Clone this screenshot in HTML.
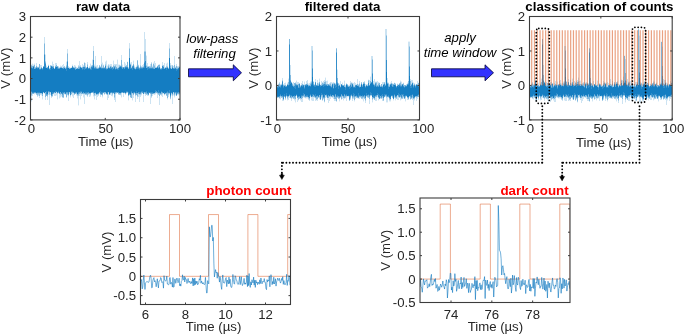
<!DOCTYPE html>
<html><head><meta charset="utf-8"><style>
html,body{margin:0;padding:0;background:#fff;width:685px;height:335px;overflow:hidden}
svg{display:block;font-family:"Liberation Sans",sans-serif;will-change:transform}
</style></head><body>
<svg width="685" height="335" viewBox="0 0 685 335" font-family="Liberation Sans, sans-serif">
<rect width="685" height="335" fill="#fff"/>
<path d="M31.5 64v1M31.5 101v1M32.5 63v1M33.5 64v1M34.5 63v1M34.5 94v1M37.5 66v1M38.5 66v1M41.5 95v1M42.5 99v1M45.5 54v1M46.5 65v1M48.5 64v1M52.5 61v1M53.5 94v1M56.5 95v1M57.5 99v1M58.5 93v1M59.5 98v1M60.5 65v1M60.5 97v1M61.5 96v1M64.5 94v1M66.5 61v1M67.5 95v1M70.5 67v1M70.5 97v1M72.5 64v1M72.5 96v1M73.5 66v1M75.5 65v1M76.5 95v1M77.5 67v1M77.5 98v1M78.5 105v1M80.5 99v1M82.5 94v1M83.5 97v1M86.5 95v1M88.5 67v1M90.5 63v1M90.5 96v1M92.5 59v1M93.5 96v1M94.5 64v1M94.5 99v1M96.5 65v1M102.5 62v1M102.5 97v1M103.5 64v1M103.5 93v1M105.5 61v1M106.5 60v1M107.5 65v1M109.5 64v1M112.5 66v1M112.5 96v1M113.5 60v1M117.5 59v1M118.5 64v1M119.5 64v1M120.5 95v1M121.5 97v1M122.5 64v1M124.5 93v1M125.5 63v1M126.5 93v1M127.5 61v1M128.5 100v1M129.5 95v1M130.5 62v1M132.5 100v1M133.5 60v1M134.5 65v1M136.5 65v1M136.5 95v1M138.5 64v1M141.5 95v1M142.5 93v1M146.5 55v1M149.5 93v1M152.5 65v1M153.5 62v1M153.5 94v1M155.5 94v1M156.5 93v1M157.5 65v1M158.5 64v1M160.5 67v1M164.5 95v1M165.5 94v1M166.5 63v1M167.5 62v1M167.5 99v1M168.5 67v1M169.5 94v1M170.5 99v1M171.5 95v1M173.5 95v1M174.5 97v1M175.5 66v1M175.5 95v1M178.5 95v1" stroke="#0072BD" stroke-opacity="0.08" fill="none"/>
<path d="M31.5 96v5M32.5 64v2M32.5 94v2M33.5 65v1M34.5 64v1M34.5 93v1M35.5 93v1M36.5 63v3M37.5 96v1M38.5 95v1M39.5 96v2M40.5 65v3M40.5 94v1M41.5 65v2M41.5 94v1M42.5 96v3M44.5 37v6M44.5 93v1M45.5 55v6M45.5 97v3M46.5 66v1M47.5 97v3M48.5 93v2M49.5 95v10M50.5 93v2M51.5 65v1M51.5 97v1M52.5 62v4M52.5 96v1M53.5 64v2M54.5 93v3M55.5 63v3M55.5 93v3M56.5 63v2M56.5 92v3M57.5 94v5M58.5 66v1M59.5 67v1M59.5 94v4M60.5 66v1M60.5 95v2M61.5 66v1M61.5 94v2M62.5 65v3M62.5 97v1M63.5 64v3M65.5 67v1M65.5 94v1M66.5 62v3M66.5 97v1M67.5 49v4M68.5 66v1M68.5 96v5M69.5 67v1M69.5 93v1M70.5 96v1M71.5 67v1M71.5 94v1M72.5 65v1M72.5 93v3M73.5 93v5M74.5 65v2M75.5 66v1M76.5 67v1M76.5 94v1M77.5 96v2M78.5 65v1M78.5 96v9M79.5 61v5M79.5 94v2M80.5 65v1M80.5 94v5M81.5 94v2M82.5 64v3M83.5 65v1M83.5 94v3M84.5 62v1M84.5 94v10M85.5 63v3M87.5 62v2M87.5 96v1M88.5 94v1M89.5 66v1M89.5 94v3M90.5 64v3M90.5 95v1M91.5 65v1M92.5 60v5M93.5 46v5M93.5 94v2M94.5 65v1M94.5 96v3M95.5 56v10M95.5 94v2M96.5 66v1M96.5 95v5M97.5 65v3M97.5 95v2M98.5 67v1M98.5 95v1M99.5 93v1M100.5 66v1M100.5 95v2M101.5 56v8M102.5 63v4M102.5 96v1M104.5 94v1M105.5 62v2M105.5 93v1M106.5 61v7M106.5 94v1M107.5 66v2M107.5 95v5M108.5 64v1M108.5 93v5M109.5 65v2M110.5 64v2M110.5 94v1M111.5 64v2M111.5 93v3M112.5 95v1M113.5 61v4M113.5 93v1M114.5 64v2M114.5 98v2M115.5 64v1M115.5 94v8M116.5 64v3M116.5 93v1M117.5 60v8M118.5 65v2M118.5 94v1M120.5 65v1M121.5 55v5M121.5 93v4M122.5 65v2M123.5 93v4M124.5 62v5M125.5 64v2M125.5 94v1M128.5 67v1M128.5 96v4M129.5 43v5M130.5 63v1M130.5 97v1M131.5 62v5M132.5 65v1M132.5 94v6M133.5 61v3M133.5 95v3M134.5 66v1M134.5 93v1M135.5 67v1M135.5 96v6M136.5 66v1M137.5 97v2M138.5 94v3M139.5 67v1M139.5 95v7M140.5 54v11M140.5 95v2M141.5 66v1M141.5 94v1M142.5 65v2M143.5 64v2M143.5 94v8M144.5 32v19M144.5 93v1M145.5 39v12M145.5 94v2M146.5 56v9M147.5 63v3M147.5 95v1M148.5 95v1M150.5 64v2M150.5 94v10M151.5 62v1M151.5 97v1M152.5 66v1M152.5 94v2M153.5 63v1M154.5 61v4M154.5 94v1M155.5 63v4M155.5 93v1M157.5 94v4M159.5 64v1M159.5 96v9M161.5 95v1M162.5 62v3M162.5 94v3M163.5 93v1M164.5 63v5M166.5 64v2M167.5 63v3M167.5 98v1M168.5 95v2M169.5 43v5M170.5 63v2M171.5 65v3M171.5 94v1M172.5 96v8M173.5 66v2M173.5 93v2M174.5 56v9M174.5 96v1M175.5 94v1M176.5 64v2M177.5 66v1M177.5 94v1M178.5 66v1M178.5 94v1M179.5 66v1M179.5 94v1" stroke="#0072BD" stroke-opacity="0.20" fill="none"/>
<path d="M31.5 65v1M31.5 95v1M35.5 67v1M36.5 94v1M37.5 95v1M38.5 94v1M40.5 68v1M40.5 93v1M41.5 93v1M43.5 92v1M44.5 43v1M45.5 61v1M46.5 67v1M47.5 96v1M48.5 65v1M48.5 92v1M49.5 68v1M49.5 94v1M50.5 65v1M50.5 92v1M51.5 96v1M54.5 68v1M57.5 93v1M58.5 67v1M60.5 94v1M63.5 97v1M64.5 66v1M66.5 65v1M67.5 53v1M67.5 94v1M68.5 67v1M68.5 95v1M69.5 92v1M70.5 95v1M74.5 67v1M74.5 94v1M76.5 68v1M76.5 93v1M77.5 95v1M78.5 66v1M78.5 95v1M79.5 66v1M80.5 66v1M80.5 93v1M81.5 67v1M83.5 66v1M85.5 66v1M85.5 94v1M86.5 67v1M86.5 94v1M87.5 64v1M87.5 95v1M89.5 67v1M90.5 67v1M90.5 94v1M93.5 93v1M94.5 66v1M94.5 95v1M95.5 66v1M95.5 93v1M96.5 67v1M97.5 94v1M98.5 94v1M99.5 65v1M100.5 94v1M101.5 64v1M102.5 67v1M102.5 95v1M103.5 65v1M104.5 67v1M105.5 64v1M108.5 65v1M108.5 92v1M109.5 67v1M110.5 93v1M111.5 66v1M112.5 94v1M113.5 65v1M114.5 97v1M115.5 65v1M115.5 93v1M118.5 67v1M119.5 65v1M119.5 94v1M120.5 94v1M126.5 65v1M127.5 92v1M129.5 48v1M131.5 67v1M132.5 93v1M134.5 67v1M135.5 68v1M135.5 95v1M137.5 60v1M137.5 96v1M138.5 65v1M139.5 94v1M140.5 65v1M140.5 94v1M141.5 93v1M143.5 66v1M144.5 51v1M145.5 51v1M146.5 65v1M146.5 94v1M147.5 66v1M147.5 94v1M148.5 66v1M149.5 66v1M150.5 66v1M151.5 63v1M151.5 96v1M154.5 65v1M154.5 93v1M155.5 67v1M156.5 67v1M157.5 93v1M158.5 94v1M160.5 68v1M160.5 94v1M161.5 94v1M162.5 65v1M162.5 93v1M163.5 65v1M164.5 94v1M165.5 67v1M166.5 66v1M166.5 95v1M167.5 66v1M168.5 94v1M169.5 48v1M169.5 93v1M170.5 65v1M170.5 98v1M171.5 68v1M171.5 93v1M172.5 65v1M172.5 95v1M173.5 92v1M174.5 95v1M175.5 67v1M175.5 93v1M177.5 67v1M178.5 67v1" stroke="#0072BD" stroke-opacity="0.35" fill="none"/>
<path d="M31.5 66v1M31.5 92v3M32.5 66v2M32.5 93v1M33.5 93v1M34.5 65v4M36.5 66v1M36.5 93v1M37.5 67v1M37.5 93v2M38.5 67v1M38.5 93v1M39.5 64v5M39.5 93v3M41.5 67v1M42.5 68v1M42.5 94v2M43.5 66v1M44.5 44v10M45.5 62v1M45.5 92v5M46.5 95v1M47.5 67v1M47.5 95v1M49.5 92v2M50.5 66v2M52.5 66v1M52.5 94v2M53.5 66v1M53.5 93v1M54.5 92v1M55.5 66v1M56.5 65v2M57.5 66v1M58.5 92v1M60.5 67v1M60.5 92v2M61.5 67v1M62.5 95v2M63.5 67v1M63.5 93v4M64.5 67v1M64.5 93v1M65.5 68v1M66.5 66v1M66.5 93v4M67.5 54v7M67.5 93v1M69.5 68v1M71.5 92v2M72.5 92v1M73.5 67v1M75.5 67v2M75.5 93v1M77.5 94v1M78.5 67v2M78.5 94v1M79.5 67v1M79.5 93v1M81.5 92v2M82.5 67v1M82.5 93v1M83.5 93v1M84.5 63v4M84.5 93v1M85.5 67v1M87.5 65v2M87.5 93v2M88.5 93v1M89.5 93v1M90.5 68v1M90.5 93v1M91.5 66v1M92.5 65v1M92.5 92v1M93.5 51v9M94.5 67v1M94.5 93v2M96.5 94v1M97.5 68v1M99.5 66v1M99.5 92v1M101.5 65v3M101.5 94v1M102.5 94v1M103.5 66v2M104.5 92v2M105.5 65v1M105.5 92v1M106.5 68v1M107.5 68v1M107.5 94v1M108.5 66v1M109.5 94v1M110.5 66v1M111.5 67v1M112.5 93v1M113.5 66v2M114.5 66v1M114.5 94v3M115.5 66v3M116.5 67v1M116.5 92v1M117.5 68v1M118.5 93v1M119.5 66v1M119.5 93v1M120.5 93v1M121.5 60v6M122.5 67v1M122.5 92v1M124.5 67v1M125.5 66v1M125.5 93v1M126.5 66v1M126.5 92v1M127.5 62v5M128.5 68v1M128.5 95v1M129.5 49v9M129.5 94v1M130.5 64v1M130.5 95v2M131.5 93v5M133.5 64v1M133.5 94v1M135.5 94v1M136.5 93v2M137.5 61v5M137.5 93v3M138.5 66v1M138.5 93v1M140.5 66v1M141.5 67v1M141.5 92v1M142.5 67v1M144.5 52v10M144.5 92v1M145.5 52v9M145.5 93v1M146.5 66v2M146.5 93v1M149.5 67v1M150.5 67v1M150.5 93v1M151.5 64v4M151.5 94v2M152.5 67v1M153.5 64v4M153.5 93v1M154.5 66v3M155.5 92v1M156.5 92v1M157.5 66v1M158.5 65v3M158.5 93v1M159.5 65v2M159.5 93v3M161.5 68v1M161.5 92v2M163.5 66v1M164.5 68v1M165.5 93v1M166.5 67v1M166.5 93v2M167.5 93v5M168.5 68v1M168.5 93v1M169.5 49v9M170.5 66v2M170.5 97v1M172.5 66v1M172.5 94v1M174.5 65v3M174.5 94v1M176.5 66v3M176.5 95v1M177.5 68v1M177.5 93v1M178.5 93v1M179.5 93v1" stroke="#0072BD" stroke-opacity="0.50" fill="none"/>
<path d="M31.5 67v1M33.5 66v1M34.5 92v1M35.5 68v1M35.5 92v1M36.5 67v1M44.5 54v1M45.5 63v1M46.5 94v1M47.5 94v1M48.5 91v1M51.5 95v1M53.5 67v1M58.5 68v1M59.5 68v1M59.5 93v1M61.5 93v1M62.5 94v1M63.5 68v1M64.5 92v1M66.5 67v1M66.5 92v1M67.5 61v1M67.5 92v1M68.5 94v1M70.5 68v1M72.5 66v1M73.5 92v1M74.5 93v1M75.5 69v1M76.5 92v1M77.5 68v1M78.5 93v1M79.5 68v1M79.5 92v1M80.5 92v1M82.5 68v1M83.5 92v1M85.5 68v1M85.5 93v1M86.5 93v1M88.5 68v1M88.5 92v1M91.5 92v1M92.5 66v1M93.5 92v1M95.5 67v1M96.5 68v1M98.5 68v1M98.5 93v1M99.5 67v1M100.5 67v1M100.5 93v1M102.5 93v1M103.5 92v1M106.5 93v1M108.5 67v1M111.5 92v1M112.5 67v1M113.5 68v1M115.5 92v1M116.5 68v1M117.5 92v1M118.5 92v1M120.5 66v1M121.5 66v1M121.5 92v1M122.5 68v1M123.5 67v1M124.5 68v1M124.5 92v1M131.5 92v1M132.5 66v1M133.5 65v1M133.5 93v1M134.5 68v1M134.5 92v1M135.5 93v1M136.5 67v1M137.5 66v1M138.5 67v1M138.5 92v1M139.5 68v1M140.5 67v1M140.5 93v1M142.5 92v1M143.5 67v1M144.5 62v1M145.5 92v1M146.5 92v1M147.5 67v1M147.5 93v1M148.5 94v1M151.5 93v1M152.5 93v1M153.5 68v1M156.5 91v1M157.5 92v1M160.5 93v1M162.5 92v1M167.5 67v1M167.5 92v1M170.5 96v1M172.5 67v1M173.5 68v1M174.5 68v1M174.5 93v1M175.5 92v1M178.5 92v1" stroke="#0072BD" stroke-opacity="0.65" fill="none"/>
<path d="M31.5 91v1M32.5 68v1M32.5 92v1M33.5 92v1M37.5 68v1M37.5 92v1M38.5 92v1M39.5 69v1M39.5 92v1M40.5 69v1M41.5 68v1M42.5 69v1M42.5 93v1M44.5 55v12M45.5 64v4M46.5 91v3M47.5 68v1M49.5 69v1M49.5 91v1M50.5 68v2M51.5 66v1M51.5 94v1M52.5 67v2M52.5 92v2M53.5 92v1M55.5 67v1M55.5 91v2M56.5 91v1M57.5 67v2M57.5 92v1M58.5 91v1M62.5 68v1M62.5 92v2M63.5 92v1M65.5 93v1M66.5 68v3M67.5 62v6M68.5 92v2M70.5 93v2M71.5 91v1M72.5 67v1M72.5 91v1M74.5 68v1M75.5 92v1M78.5 92v1M80.5 67v1M80.5 91v1M81.5 91v1M82.5 69v1M83.5 67v2M84.5 67v3M85.5 92v1M86.5 68v1M86.5 92v1M87.5 92v1M89.5 68v1M90.5 69v1M91.5 67v3M92.5 67v1M93.5 60v6M93.5 91v1M94.5 68v1M95.5 68v1M95.5 92v1M97.5 93v1M100.5 91v2M101.5 68v1M101.5 92v2M102.5 68v1M102.5 92v1M103.5 68v1M104.5 68v1M105.5 66v3M106.5 69v1M107.5 92v2M109.5 68v1M110.5 67v2M110.5 92v1M111.5 68v1M112.5 68v2M112.5 92v1M113.5 92v1M114.5 67v1M114.5 92v2M115.5 69v1M117.5 69v1M118.5 68v2M119.5 67v1M121.5 67v1M123.5 92v1M125.5 67v1M126.5 67v1M126.5 91v1M127.5 67v1M127.5 91v1M128.5 92v3M129.5 93v1M130.5 65v4M130.5 94v1M131.5 68v1M131.5 91v1M132.5 67v3M133.5 66v2M133.5 92v1M135.5 69v1M136.5 68v1M136.5 91v2M137.5 67v2M138.5 68v1M139.5 69v1M139.5 92v2M140.5 68v1M140.5 92v1M141.5 68v1M141.5 91v1M142.5 68v1M142.5 91v1M143.5 92v2M144.5 63v5M145.5 61v5M146.5 91v1M147.5 68v2M148.5 67v2M148.5 92v2M149.5 68v1M149.5 92v1M150.5 68v1M150.5 92v1M151.5 68v1M151.5 92v1M152.5 68v1M152.5 92v1M155.5 90v2M157.5 67v1M158.5 68v1M158.5 90v3M159.5 67v1M159.5 92v1M160.5 69v1M161.5 69v1M161.5 91v1M162.5 66v3M163.5 67v2M164.5 92v2M166.5 68v2M166.5 92v1M167.5 91v1M168.5 92v1M169.5 90v3M170.5 68v1M170.5 95v1M171.5 92v1M172.5 93v1M174.5 92v1M175.5 68v1M176.5 69v2M176.5 92v3M177.5 69v1M177.5 92v1M178.5 68v1M179.5 67v1M179.5 92v1" stroke="#0072BD" stroke-opacity="0.80" fill="none"/>
<path d="M31.5 68v23M32.5 69v23M33.5 67v25M34.5 69v23M35.5 69v23M36.5 68v25M37.5 69v23M38.5 68v24M39.5 70v22M40.5 70v23M41.5 69v24M42.5 70v23M43.5 67v25M44.5 67v26M45.5 68v24M46.5 68v23M47.5 69v25M48.5 66v25M49.5 70v21M50.5 70v22M51.5 67v27M52.5 69v23M53.5 68v24M54.5 69v23M55.5 68v23M56.5 67v24M57.5 69v23M58.5 69v22M59.5 69v24M60.5 68v24M61.5 68v25M62.5 69v23M63.5 69v23M64.5 68v24M65.5 69v24M66.5 71v21M67.5 68v24M68.5 68v24M69.5 69v23M70.5 69v24M71.5 68v23M72.5 68v23M73.5 68v24M74.5 69v24M75.5 70v22M76.5 69v23M77.5 69v25M78.5 69v23M79.5 69v23M80.5 68v23M81.5 68v23M82.5 70v23M83.5 69v23M84.5 70v23M85.5 69v23M86.5 69v23M87.5 67v25M88.5 69v23M89.5 69v24M90.5 70v23M91.5 70v22M92.5 68v24M93.5 66v25M94.5 69v24M95.5 69v23M96.5 69v25M97.5 69v24M98.5 69v24M99.5 68v24M100.5 68v23M101.5 69v23M102.5 69v23M103.5 69v23M104.5 69v23M105.5 69v23M106.5 70v23M107.5 69v23M108.5 68v24M109.5 69v25M110.5 69v23M111.5 69v23M112.5 70v22M113.5 69v23M114.5 68v24M115.5 70v22M116.5 69v23M117.5 70v22M118.5 70v22M119.5 68v25M120.5 67v26M121.5 68v24M122.5 69v23M123.5 68v24M124.5 69v23M125.5 68v25M126.5 68v23M127.5 68v23M128.5 69v23M129.5 58v35M130.5 69v25M131.5 69v22M132.5 70v23M133.5 68v24M134.5 69v23M135.5 70v23M136.5 69v22M137.5 69v24M138.5 69v23M139.5 70v22M140.5 69v23M141.5 69v22M142.5 69v22M143.5 68v24M144.5 68v24M145.5 66v26M146.5 68v23M147.5 70v23M148.5 69v23M149.5 69v23M150.5 69v23M151.5 69v23M152.5 69v23M153.5 69v24M154.5 69v24M155.5 68v22M156.5 68v23M157.5 68v24M158.5 69v21M159.5 68v24M160.5 70v23M161.5 70v21M162.5 69v23M163.5 69v24M164.5 69v23M165.5 68v25M166.5 70v22M167.5 68v23M168.5 69v23M169.5 58v32M170.5 69v26M171.5 69v23M172.5 68v25M173.5 69v23M174.5 69v23M175.5 69v23M176.5 71v21M177.5 70v22M178.5 69v23M179.5 68v24" stroke="#0072BD" stroke-opacity="0.92" fill="none"/>
<rect x="30.5" y="16.5" width="149.5" height="103.4" fill="none" stroke="#3c3c3c" stroke-width="1.1"/>
<path d="M30.5 119.9v-2M30.5 16.5v2M105.25 119.9v-2M105.25 16.5v2M180 119.9v-2M180 16.5v2M30.5 119.9h2M180 119.9h-2M30.5 99.22h2M180 99.22h-2M30.5 78.54h2M180 78.54h-2M30.5 57.86h2M180 57.86h-2M30.5 37.18h2M180 37.18h-2M30.5 16.5h2M180 16.5h-2" stroke="#3c3c3c" stroke-width="1" fill="none"/>
<text x="31.5" y="133.2" text-anchor="middle" font-weight="normal" font-style="normal" fill="#262626" font-size="13.2">0</text>
<text x="105.75" y="133.2" text-anchor="middle" font-weight="normal" font-style="normal" fill="#262626" font-size="13.2">50</text>
<text x="180" y="133.2" text-anchor="middle" font-weight="normal" font-style="normal" fill="#262626" font-size="13.2">100</text>
<text x="26" y="124.8" text-anchor="end" font-weight="normal" font-style="normal" fill="#262626" font-size="13.2">-2</text>
<text x="26" y="104.12" text-anchor="end" font-weight="normal" font-style="normal" fill="#262626" font-size="13.2">-1</text>
<text x="26" y="83.44" text-anchor="end" font-weight="normal" font-style="normal" fill="#262626" font-size="13.2">0</text>
<text x="26" y="62.76" text-anchor="end" font-weight="normal" font-style="normal" fill="#262626" font-size="13.2">1</text>
<text x="26" y="42.08" text-anchor="end" font-weight="normal" font-style="normal" fill="#262626" font-size="13.2">2</text>
<text x="26" y="21.4" text-anchor="end" font-weight="normal" font-style="normal" fill="#262626" font-size="13.2">3</text>
<text x="105.75" y="146.3" text-anchor="middle" font-weight="normal" font-style="normal" fill="#262626" font-size="13.2">Time (µs)</text>
<text x="0" y="0" text-anchor="middle" fill="#262626" font-size="13.2" transform="translate(9.5 68.2) rotate(-90)">V (mV)</text>
<text x="103" y="10.8" text-anchor="middle" font-weight="bold" font-style="normal" fill="#000" font-size="13.35">raw data</text>
<path d="M278.5 83v1M280.5 99v1M281.5 83v1M285.5 82v1M286.5 85v1M287.5 82v1M287.5 100v1M288.5 78v1M290.5 98v1M291.5 81v1M292.5 98v1M294.5 100v1M295.5 102v1M296.5 80v1M298.5 100v1M300.5 100v1M303.5 97v1M304.5 81v1M305.5 98v1M306.5 98v1M307.5 98v1M308.5 83v1M310.5 81v1M310.5 97v1M311.5 100v1M316.5 84v1M316.5 100v1M318.5 82v1M319.5 78v1M319.5 99v1M320.5 84v1M321.5 98v1M323.5 99v1M324.5 102v1M325.5 77v1M326.5 97v1M327.5 80v1M331.5 97v1M332.5 82v1M334.5 82v1M337.5 69v1M339.5 83v1M339.5 101v1M342.5 82v1M343.5 100v1M344.5 80v1M345.5 98v1M347.5 97v1M349.5 84v1M351.5 96v1M352.5 82v1M354.5 101v1M357.5 98v1M360.5 84v1M362.5 99v1M363.5 101v1M368.5 79v1M370.5 76v1M370.5 96v1M372.5 102v1M375.5 81v1M376.5 81v1M377.5 97v1M378.5 100v1M379.5 82v1M379.5 99v1M384.5 97v1M386.5 102v1M387.5 102v1M388.5 82v1M389.5 101v1M390.5 82v1M390.5 101v1M393.5 83v1M393.5 100v1M394.5 82v1M395.5 100v1M397.5 83v1M400.5 80v1M400.5 100v1M401.5 81v1M401.5 99v1M402.5 83v1M403.5 82v1M403.5 98v1M405.5 101v1M407.5 82v1M408.5 41v1M409.5 41v1M409.5 97v1M413.5 82v1M414.5 100v1M415.5 84v1M415.5 97v1M418.5 82v1" stroke="#0072BD" stroke-opacity="0.08" fill="none"/>
<path d="M277.5 85v1M278.5 97v1M279.5 82v1M279.5 98v1M280.5 84v1M280.5 97v2M282.5 78v2M282.5 98v3M283.5 84v1M283.5 100v1M284.5 83v2M285.5 83v2M285.5 99v1M286.5 96v1M287.5 83v1M287.5 99v1M288.5 79v3M288.5 97v3M289.5 96v2M290.5 65v10M291.5 99v2M292.5 83v1M293.5 82v3M294.5 99v1M295.5 82v1M295.5 99v3M296.5 81v3M297.5 82v2M297.5 98v4M298.5 82v2M300.5 85v1M300.5 99v1M301.5 83v2M301.5 99v3M302.5 81v3M302.5 98v4M303.5 84v1M304.5 82v3M304.5 97v1M306.5 81v3M306.5 97v1M307.5 80v3M307.5 97v1M308.5 84v1M308.5 99v1M309.5 83v2M309.5 100v1M310.5 82v1M310.5 96v1M311.5 46v35M311.5 97v3M312.5 46v4M312.5 97v4M313.5 81v1M313.5 97v4M314.5 84v1M314.5 97v1M315.5 79v3M315.5 98v3M317.5 80v3M317.5 99v2M318.5 83v1M319.5 79v3M319.5 98v1M321.5 81v3M321.5 97v1M322.5 82v1M322.5 100v1M323.5 81v2M324.5 80v2M325.5 78v3M325.5 96v2M326.5 81v3M327.5 81v3M327.5 98v2M328.5 98v5M329.5 83v1M329.5 97v4M330.5 82v1M330.5 97v2M331.5 82v3M332.5 97v1M333.5 82v1M333.5 97v2M334.5 99v2M335.5 83v1M335.5 99v2M336.5 101v1M337.5 70v8M339.5 84v1M339.5 99v2M340.5 81v5M340.5 97v1M341.5 99v1M342.5 83v2M342.5 97v2M343.5 98v2M344.5 81v3M344.5 98v1M345.5 85v1M346.5 83v1M346.5 97v4M347.5 96v1M348.5 85v1M348.5 96v1M349.5 85v1M350.5 81v2M350.5 99v1M351.5 82v1M352.5 99v2M353.5 83v2M353.5 98v1M354.5 82v4M354.5 100v1M355.5 83v2M355.5 97v2M356.5 84v1M357.5 79v5M358.5 84v1M358.5 98v1M359.5 81v2M359.5 97v2M360.5 85v1M360.5 97v1M362.5 84v1M363.5 98v3M364.5 81v1M365.5 84v2M365.5 101v2M366.5 84v1M366.5 96v1M367.5 84v1M367.5 97v1M369.5 80v5M369.5 99v5M370.5 77v4M371.5 56v26M372.5 56v3M372.5 100v2M373.5 81v2M373.5 98v1M374.5 79v5M375.5 97v4M376.5 97v4M377.5 81v4M377.5 96v1M378.5 82v1M378.5 98v2M380.5 85v1M380.5 98v1M382.5 82v4M382.5 98v3M383.5 82v2M385.5 29v55M385.5 96v1M386.5 29v6M386.5 98v4M387.5 78v4M387.5 97v5M388.5 97v1M389.5 84v1M389.5 100v1M390.5 83v1M390.5 100v1M391.5 81v2M391.5 96v1M392.5 83v1M393.5 99v1M394.5 97v1M395.5 83v1M395.5 98v2M397.5 96v4M398.5 84v1M398.5 97v3M400.5 81v1M400.5 97v3M401.5 82v2M403.5 97v1M405.5 98v3M406.5 84v1M406.5 96v1M407.5 83v1M407.5 98v2M408.5 42v39M408.5 99v1M409.5 42v4M410.5 79v2M410.5 99v1M411.5 80v4M412.5 80v2M412.5 98v2M413.5 83v2M413.5 99v6M414.5 83v1M414.5 99v1M416.5 98v3M417.5 81v3M417.5 97v2" stroke="#0072BD" stroke-opacity="0.20" fill="none"/>
<path d="M277.5 97v1M278.5 84v1M279.5 83v1M280.5 96v1M281.5 84v1M281.5 97v1M282.5 80v1M282.5 97v1M285.5 98v1M287.5 98v1M291.5 98v1M292.5 97v1M293.5 85v1M293.5 98v1M294.5 98v1M296.5 95v1M297.5 84v1M298.5 99v1M299.5 83v1M299.5 98v1M300.5 98v1M303.5 96v1M305.5 84v1M305.5 97v1M307.5 83v1M308.5 98v1M309.5 99v1M310.5 83v1M311.5 81v1M312.5 50v1M316.5 99v1M318.5 84v1M318.5 97v1M319.5 97v1M321.5 84v1M321.5 96v1M323.5 83v1M323.5 98v1M324.5 101v1M325.5 81v1M325.5 95v1M326.5 96v1M329.5 84v1M330.5 83v1M330.5 96v1M331.5 85v1M332.5 83v1M333.5 83v1M333.5 96v1M336.5 48v1M337.5 97v1M338.5 83v1M338.5 98v1M339.5 98v1M340.5 86v1M342.5 96v1M344.5 84v1M345.5 86v1M345.5 97v1M346.5 96v1M347.5 84v1M349.5 100v1M350.5 83v1M350.5 98v1M352.5 83v1M352.5 98v1M353.5 85v1M353.5 97v1M354.5 86v1M356.5 97v1M359.5 83v1M360.5 86v1M361.5 82v1M361.5 98v1M362.5 98v1M363.5 82v1M363.5 97v1M364.5 82v1M364.5 98v1M365.5 100v1M367.5 85v1M368.5 80v1M368.5 97v1M370.5 95v1M371.5 95v1M372.5 59v1M372.5 99v1M373.5 83v1M374.5 84v1M374.5 99v1M375.5 82v1M376.5 82v1M377.5 95v1M378.5 83v1M381.5 98v1M382.5 97v1M383.5 100v1M384.5 82v1M385.5 84v1M386.5 35v1M386.5 97v1M387.5 82v1M388.5 83v1M389.5 85v1M389.5 99v1M390.5 99v1M392.5 97v1M394.5 96v1M396.5 98v1M397.5 84v1M397.5 95v1M399.5 83v1M399.5 97v1M400.5 82v1M401.5 84v1M401.5 98v1M402.5 98v1M403.5 83v1M405.5 97v1M406.5 85v1M409.5 46v1M409.5 96v1M411.5 98v1M412.5 82v1M412.5 97v1M414.5 98v1M415.5 85v1M416.5 97v1M417.5 84v1" stroke="#0072BD" stroke-opacity="0.35" fill="none"/>
<path d="M277.5 86v1M278.5 85v1M279.5 84v2M279.5 97v1M280.5 85v1M281.5 96v1M283.5 85v1M283.5 99v1M284.5 85v1M284.5 96v1M285.5 85v1M287.5 84v1M287.5 97v1M288.5 82v3M288.5 96v1M289.5 39v5M289.5 95v1M290.5 75v5M290.5 97v1M291.5 82v1M291.5 96v2M292.5 84v1M293.5 96v2M294.5 83v3M294.5 97v1M295.5 83v1M295.5 96v3M296.5 84v1M298.5 84v3M298.5 97v2M299.5 97v1M300.5 86v1M301.5 97v2M302.5 84v1M302.5 96v2M304.5 85v2M304.5 95v2M307.5 84v1M308.5 85v1M308.5 97v1M309.5 85v1M309.5 98v1M310.5 84v2M310.5 95v1M311.5 82v1M312.5 51v17M312.5 96v1M313.5 82v2M313.5 95v2M314.5 96v1M315.5 97v1M316.5 97v2M317.5 83v2M317.5 96v3M318.5 85v1M319.5 82v1M319.5 95v2M320.5 99v1M321.5 85v1M321.5 95v1M322.5 83v2M322.5 95v5M324.5 82v2M324.5 98v3M325.5 82v2M326.5 84v1M326.5 95v1M327.5 84v2M328.5 84v1M328.5 96v2M329.5 96v1M330.5 84v2M331.5 86v1M331.5 96v1M332.5 95v2M333.5 84v4M334.5 83v1M334.5 97v2M335.5 84v1M335.5 95v4M336.5 49v3M336.5 97v4M337.5 78v4M338.5 84v2M338.5 97v1M341.5 95v4M343.5 85v1M343.5 97v1M344.5 85v2M344.5 95v3M345.5 96v1M348.5 86v1M350.5 84v1M350.5 97v1M351.5 83v3M351.5 95v1M352.5 97v1M353.5 86v1M353.5 96v1M354.5 97v3M355.5 96v1M356.5 96v1M357.5 84v2M357.5 97v1M358.5 85v1M359.5 84v3M359.5 96v1M360.5 96v1M361.5 83v1M361.5 96v2M362.5 85v1M362.5 97v1M363.5 83v1M364.5 83v1M364.5 96v2M365.5 86v1M365.5 98v2M367.5 96v1M368.5 81v2M368.5 95v2M369.5 97v2M370.5 81v2M372.5 60v13M372.5 97v2M374.5 98v1M375.5 96v1M376.5 83v3M376.5 96v1M377.5 85v1M378.5 84v2M378.5 97v1M379.5 83v2M380.5 86v1M380.5 96v2M381.5 84v2M382.5 86v1M382.5 96v1M383.5 84v1M383.5 98v2M384.5 83v1M385.5 95v1M386.5 36v24M386.5 96v1M388.5 84v2M389.5 86v1M389.5 98v1M391.5 83v1M392.5 84v2M392.5 96v1M393.5 84v1M394.5 83v2M394.5 95v1M395.5 84v1M395.5 97v1M396.5 86v1M396.5 97v1M397.5 85v1M398.5 96v1M400.5 83v2M400.5 96v1M401.5 85v1M402.5 95v3M403.5 84v2M403.5 96v1M404.5 85v2M404.5 98v1M405.5 85v1M405.5 96v1M407.5 97v1M408.5 81v2M408.5 98v1M409.5 47v19M410.5 81v5M410.5 97v2M411.5 84v1M412.5 95v2M413.5 85v1M413.5 98v1M414.5 84v1M415.5 96v1M416.5 84v1M416.5 96v1M417.5 96v1M418.5 83v3M418.5 95v2" stroke="#0072BD" stroke-opacity="0.50" fill="none"/>
<path d="M279.5 86v1M279.5 96v1M280.5 86v1M280.5 95v1M282.5 81v1M282.5 96v1M283.5 86v1M285.5 86v1M285.5 97v1M286.5 86v1M286.5 95v1M287.5 96v1M289.5 44v1M290.5 80v1M292.5 85v1M293.5 86v1M294.5 96v1M295.5 84v1M297.5 97v1M298.5 87v1M299.5 96v1M301.5 85v1M301.5 96v1M302.5 85v1M303.5 95v1M304.5 87v1M304.5 94v1M305.5 96v1M306.5 84v1M306.5 96v1M307.5 96v1M311.5 83v1M312.5 68v1M313.5 84v1M314.5 85v1M315.5 82v1M316.5 85v1M316.5 96v1M317.5 85v1M319.5 83v1M320.5 85v1M323.5 84v1M323.5 97v1M324.5 97v1M325.5 84v1M327.5 97v1M328.5 95v1M329.5 85v1M330.5 95v1M333.5 95v1M335.5 94v1M336.5 52v1M337.5 82v1M337.5 96v1M338.5 96v1M339.5 85v1M339.5 97v1M340.5 96v1M341.5 84v1M341.5 94v1M342.5 85v1M343.5 96v1M344.5 94v1M345.5 87v1M346.5 84v1M346.5 95v1M347.5 85v1M349.5 86v1M349.5 99v1M350.5 96v1M351.5 86v1M352.5 96v1M353.5 95v1M354.5 96v1M355.5 85v1M358.5 97v1M362.5 86v1M362.5 96v1M363.5 96v1M364.5 95v1M366.5 85v1M366.5 95v1M367.5 95v1M369.5 85v1M369.5 96v1M370.5 83v1M371.5 82v1M372.5 73v1M373.5 84v1M373.5 97v1M374.5 85v1M375.5 83v1M376.5 86v1M376.5 95v1M378.5 86v1M379.5 98v1M381.5 86v1M381.5 97v1M384.5 96v1M385.5 85v1M386.5 95v1M387.5 83v1M387.5 96v1M388.5 86v1M388.5 96v1M390.5 84v1M392.5 86v1M396.5 96v1M398.5 95v1M399.5 84v1M400.5 85v1M400.5 95v1M401.5 97v1M402.5 84v1M407.5 84v1M408.5 83v1M408.5 97v1M409.5 66v1M410.5 96v1M411.5 97v1M413.5 86v1M414.5 97v1M415.5 86v1M417.5 85v1" stroke="#0072BD" stroke-opacity="0.65" fill="none"/>
<path d="M277.5 87v1M277.5 96v1M278.5 86v2M278.5 96v1M280.5 87v1M280.5 94v1M281.5 85v1M282.5 82v3M282.5 95v1M283.5 87v1M283.5 96v3M284.5 94v2M285.5 96v1M286.5 93v2M288.5 85v1M289.5 45v40M289.5 94v1M290.5 81v3M290.5 95v2M291.5 95v1M292.5 96v1M294.5 86v2M294.5 95v1M295.5 85v4M296.5 85v1M296.5 94v1M297.5 85v1M297.5 96v1M298.5 96v1M299.5 84v4M300.5 87v1M301.5 95v1M302.5 86v1M302.5 95v1M303.5 85v1M303.5 93v2M304.5 88v1M305.5 85v1M306.5 85v1M306.5 95v1M307.5 95v1M308.5 86v1M309.5 96v2M310.5 86v1M310.5 94v1M311.5 84v1M311.5 96v1M312.5 69v8M312.5 94v2M313.5 85v1M313.5 94v1M314.5 86v1M314.5 95v1M315.5 83v4M315.5 94v3M317.5 95v1M318.5 96v1M319.5 84v1M320.5 86v1M320.5 97v2M321.5 93v2M322.5 85v1M322.5 94v1M323.5 85v2M324.5 84v2M324.5 94v3M325.5 85v1M326.5 85v1M326.5 94v1M327.5 96v1M328.5 85v1M330.5 86v1M330.5 94v1M331.5 87v1M332.5 84v1M333.5 88v1M334.5 84v2M334.5 96v1M335.5 85v3M336.5 53v34M336.5 96v1M337.5 83v1M337.5 95v1M338.5 86v3M339.5 96v1M340.5 87v1M342.5 95v1M345.5 88v2M345.5 95v1M346.5 94v1M347.5 86v1M348.5 95v1M349.5 87v2M349.5 96v3M350.5 85v3M350.5 95v1M351.5 94v1M352.5 84v1M353.5 87v1M353.5 93v2M354.5 87v1M354.5 94v2M355.5 86v2M356.5 85v1M356.5 95v1M357.5 96v1M358.5 86v1M358.5 93v4M359.5 87v1M359.5 95v1M360.5 95v1M361.5 84v1M362.5 95v1M364.5 84v2M365.5 87v1M365.5 96v2M366.5 93v2M367.5 86v1M368.5 83v3M368.5 94v1M369.5 95v1M370.5 92v3M371.5 93v2M372.5 74v6M373.5 95v2M374.5 86v1M374.5 96v2M375.5 84v2M375.5 95v1M377.5 86v1M377.5 93v2M378.5 94v3M379.5 85v1M379.5 95v3M381.5 95v2M382.5 87v1M382.5 94v2M383.5 96v2M384.5 84v3M384.5 94v2M385.5 94v1M386.5 60v12M386.5 94v1M388.5 87v2M388.5 95v1M389.5 97v1M390.5 97v2M391.5 84v2M391.5 95v1M392.5 95v1M393.5 85v2M393.5 98v1M394.5 94v1M395.5 85v1M395.5 96v1M396.5 87v1M398.5 85v2M398.5 93v2M399.5 85v1M399.5 94v3M400.5 86v1M401.5 86v1M401.5 94v3M402.5 94v1M403.5 86v1M403.5 94v2M404.5 87v1M404.5 96v2M405.5 86v1M405.5 95v1M406.5 86v1M406.5 95v1M408.5 84v1M409.5 67v9M410.5 86v2M410.5 95v1M411.5 85v3M411.5 95v2M412.5 83v1M412.5 94v1M413.5 87v1M413.5 96v2M414.5 85v1M415.5 87v1M417.5 95v1M418.5 86v1M418.5 94v1" stroke="#0072BD" stroke-opacity="0.80" fill="none"/>
<path d="M277.5 88v8M278.5 88v8M279.5 87v9M280.5 88v6M281.5 86v10M282.5 85v10M283.5 88v8M284.5 86v8M285.5 87v9M286.5 87v6M287.5 85v11M288.5 86v10M289.5 85v9M290.5 84v11M291.5 83v12M292.5 86v10M293.5 87v9M294.5 88v7M295.5 89v7M296.5 86v8M297.5 86v10M298.5 88v8M299.5 88v8M300.5 88v10M301.5 86v9M302.5 87v8M303.5 86v7M304.5 89v5M305.5 86v10M306.5 86v9M307.5 85v10M308.5 87v10M309.5 86v10M310.5 87v7M311.5 85v11M312.5 77v17M313.5 86v8M314.5 87v8M315.5 87v7M316.5 86v10M317.5 86v9M318.5 86v10M319.5 85v10M320.5 87v10M321.5 86v7M322.5 86v8M323.5 87v10M324.5 86v8M325.5 86v9M326.5 86v8M327.5 86v10M328.5 86v9M329.5 86v10M330.5 87v7M331.5 88v8M332.5 85v10M333.5 89v6M334.5 86v10M335.5 88v6M336.5 87v9M337.5 84v11M338.5 89v7M339.5 86v10M340.5 88v8M341.5 85v9M342.5 86v9M343.5 86v10M344.5 87v7M345.5 90v5M346.5 85v9M347.5 87v9M348.5 87v8M349.5 89v7M350.5 88v7M351.5 87v7M352.5 85v11M353.5 88v5M354.5 88v6M355.5 88v8M356.5 86v9M357.5 86v10M358.5 87v6M359.5 88v7M360.5 87v8M361.5 85v11M362.5 87v8M363.5 84v12M364.5 86v9M365.5 88v8M366.5 86v7M367.5 87v8M368.5 86v8M369.5 86v9M370.5 84v8M371.5 83v10M372.5 80v17M373.5 85v10M374.5 87v9M375.5 86v9M376.5 87v8M377.5 87v6M378.5 87v7M379.5 86v9M380.5 87v9M381.5 87v8M382.5 88v6M383.5 85v11M384.5 87v7M385.5 86v8M386.5 72v22M387.5 84v12M388.5 89v6M389.5 87v10M390.5 85v12M391.5 86v9M392.5 87v8M393.5 87v11M394.5 85v9M395.5 86v10M396.5 88v8M397.5 86v9M398.5 87v6M399.5 86v8M400.5 87v8M401.5 87v7M402.5 85v9M403.5 87v7M404.5 88v8M405.5 87v8M406.5 87v8M407.5 85v12M408.5 85v12M409.5 76v20M410.5 88v7M411.5 88v7M412.5 84v10M413.5 88v8M414.5 86v11M415.5 88v8M416.5 85v11M417.5 86v9M418.5 87v7" stroke="#0072BD" stroke-opacity="0.92" fill="none"/>
<rect x="276.5" y="16.5" width="143" height="103.4" fill="none" stroke="#3c3c3c" stroke-width="1.1"/>
<path d="M276.5 119.9v-2M276.5 16.5v2M348 119.9v-2M348 16.5v2M419.5 119.9v-2M419.5 16.5v2M276.5 119.9h2M419.5 119.9h-2M276.5 85.43h2M419.5 85.43h-2M276.5 50.97h2M419.5 50.97h-2M276.5 16.5h2M419.5 16.5h-2" stroke="#3c3c3c" stroke-width="1" fill="none"/>
<text x="277.5" y="133.2" text-anchor="middle" font-weight="normal" font-style="normal" fill="#262626" font-size="13.2">0</text>
<text x="348" y="133.2" text-anchor="middle" font-weight="normal" font-style="normal" fill="#262626" font-size="13.2">50</text>
<text x="423.3" y="133.2" text-anchor="middle" font-weight="normal" font-style="normal" fill="#262626" font-size="13.2">100</text>
<text x="272" y="124.8" text-anchor="end" font-weight="normal" font-style="normal" fill="#262626" font-size="13.2">-1</text>
<text x="272" y="90.33" text-anchor="end" font-weight="normal" font-style="normal" fill="#262626" font-size="13.2">0</text>
<text x="272" y="55.87" text-anchor="end" font-weight="normal" font-style="normal" fill="#262626" font-size="13.2">1</text>
<text x="272" y="21.4" text-anchor="end" font-weight="normal" font-style="normal" fill="#262626" font-size="13.2">2</text>
<text x="349.4" y="146.3" text-anchor="middle" font-weight="normal" font-style="normal" fill="#262626" font-size="13.2">Time (µs)</text>
<text x="0" y="0" text-anchor="middle" fill="#262626" font-size="13.2" transform="translate(257.6 68.2) rotate(-90)">V (mV)</text>
<text x="342.5" y="10.8" text-anchor="middle" font-weight="bold" font-style="normal" fill="#000" font-size="13.35">filtered data</text>
<path d="M531.5 83v1M533.5 99v1M534.5 83v1M538.5 82v1M539.5 85v1M540.5 82v1M540.5 100v1M541.5 78v1M543.5 98v1M544.5 81v1M545.5 98v1M547.5 100v1M548.5 102v1M549.5 80v1M551.5 100v1M553.5 100v1M556.5 97v1M557.5 81v1M558.5 98v1M559.5 98v1M560.5 98v1M561.5 83v1M563.5 81v1M563.5 97v1M564.5 100v1M569.5 84v1M569.5 100v1M571.5 82v1M572.5 78v1M572.5 99v1M573.5 84v1M574.5 98v1M576.5 99v1M577.5 102v1M578.5 77v1M579.5 97v1M580.5 80v1M584.5 97v1M585.5 82v1M587.5 82v1M590.5 69v1M592.5 83v1M592.5 101v1M595.5 82v1M596.5 100v1M597.5 80v1M598.5 98v1M600.5 97v1M602.5 84v1M604.5 96v1M605.5 82v1M607.5 101v1M610.5 98v1M613.5 84v1M615.5 99v1M616.5 101v1M621.5 79v1M623.5 76v1M623.5 96v1M624.5 55v1M625.5 102v1M628.5 81v1M629.5 81v1M630.5 97v1M631.5 100v1M632.5 82v1M632.5 99v1M637.5 97v1M639.5 35v1M639.5 102v1M640.5 102v1M641.5 82v1M642.5 101v1M643.5 82v1M643.5 101v1M646.5 83v1M646.5 100v1M647.5 82v1M648.5 100v1M650.5 83v1M653.5 80v1M653.5 100v1M654.5 81v1M654.5 99v1M655.5 83v1M656.5 82v1M656.5 98v1M658.5 101v1M660.5 82v1M661.5 41v1M662.5 46v1M662.5 97v1M666.5 82v1M667.5 100v1M668.5 84v1M668.5 97v1M671.5 82v1" stroke="#0072BD" stroke-opacity="0.08" fill="none"/>
<path d="M530.5 85v1M531.5 97v1M532.5 82v1M532.5 98v1M533.5 84v1M533.5 97v2M535.5 78v2M535.5 98v3M536.5 84v1M536.5 100v1M537.5 83v2M538.5 83v2M538.5 99v1M539.5 96v1M540.5 83v1M540.5 99v1M541.5 79v3M541.5 97v3M542.5 96v2M543.5 65v10M544.5 99v2M545.5 83v1M546.5 82v3M547.5 99v1M548.5 82v1M548.5 99v3M549.5 81v3M550.5 82v2M550.5 98v4M551.5 82v2M553.5 85v1M553.5 99v1M554.5 83v2M554.5 99v3M555.5 81v3M555.5 98v4M556.5 84v1M557.5 82v3M557.5 97v1M559.5 81v3M559.5 97v1M560.5 80v3M560.5 97v1M561.5 84v1M561.5 99v1M562.5 83v2M562.5 100v1M563.5 82v1M563.5 96v1M564.5 46v35M564.5 97v3M565.5 46v4M565.5 97v4M566.5 81v1M566.5 97v4M567.5 84v1M567.5 97v1M568.5 79v3M568.5 98v3M570.5 80v3M570.5 99v2M571.5 83v1M572.5 79v3M572.5 98v1M574.5 81v3M574.5 97v1M575.5 82v1M575.5 100v1M576.5 81v2M577.5 80v2M578.5 78v3M578.5 96v2M579.5 81v3M580.5 81v3M580.5 98v2M581.5 98v5M582.5 83v1M582.5 97v4M583.5 82v1M583.5 97v2M584.5 82v3M585.5 97v1M586.5 82v1M586.5 97v2M587.5 99v2M588.5 83v1M588.5 99v2M589.5 101v1M590.5 70v8M592.5 84v1M592.5 99v2M593.5 81v5M593.5 97v1M594.5 99v1M595.5 83v2M595.5 97v2M596.5 98v2M597.5 81v3M597.5 98v1M598.5 85v1M599.5 83v1M599.5 97v4M600.5 96v1M601.5 85v1M601.5 96v1M602.5 85v1M603.5 81v2M603.5 99v1M604.5 82v1M605.5 99v2M606.5 83v2M606.5 98v1M607.5 82v4M607.5 100v1M608.5 83v2M608.5 97v2M609.5 84v1M610.5 79v5M611.5 84v1M611.5 98v1M612.5 81v2M612.5 97v2M613.5 85v1M613.5 97v1M615.5 84v1M616.5 98v3M617.5 81v1M618.5 84v2M618.5 101v2M619.5 84v1M619.5 96v1M620.5 84v1M620.5 97v1M622.5 80v5M622.5 99v5M623.5 77v4M625.5 59v14M625.5 100v2M626.5 81v3M626.5 98v1M627.5 79v5M628.5 97v4M629.5 97v4M630.5 81v4M630.5 96v1M631.5 82v1M631.5 98v2M633.5 85v1M633.5 98v1M635.5 82v4M635.5 98v3M636.5 82v2M638.5 96v1M639.5 36v24M639.5 98v4M640.5 82v1M640.5 97v5M641.5 97v1M642.5 84v1M642.5 100v1M643.5 83v1M643.5 100v1M644.5 81v2M644.5 96v1M645.5 83v1M646.5 99v1M647.5 97v1M648.5 83v1M648.5 98v2M650.5 96v4M651.5 84v1M651.5 97v3M653.5 81v1M653.5 97v3M654.5 82v2M656.5 97v1M658.5 98v3M659.5 84v1M659.5 96v1M660.5 83v1M660.5 98v2M661.5 99v1M662.5 47v19M663.5 79v4M663.5 99v1M664.5 80v4M665.5 80v2M665.5 98v2M666.5 83v2M666.5 99v6M667.5 83v1M667.5 99v1M669.5 98v3M670.5 81v3M670.5 97v2" stroke="#0072BD" stroke-opacity="0.20" fill="none"/>
<path d="M530.5 97v1M531.5 84v1M532.5 83v1M533.5 96v1M534.5 84v1M534.5 97v1M535.5 80v1M535.5 97v1M538.5 98v1M540.5 98v1M544.5 98v1M545.5 97v1M546.5 85v1M546.5 98v1M547.5 98v1M549.5 95v1M550.5 84v1M551.5 99v1M552.5 83v1M552.5 98v1M553.5 98v1M556.5 96v1M558.5 84v1M558.5 97v1M560.5 83v1M561.5 98v1M562.5 99v1M563.5 83v1M564.5 81v1M565.5 50v1M569.5 99v1M571.5 84v1M571.5 97v1M572.5 97v1M574.5 84v1M574.5 96v1M576.5 83v1M576.5 98v1M577.5 101v1M578.5 81v1M578.5 95v1M579.5 96v1M582.5 84v1M583.5 83v1M583.5 96v1M584.5 85v1M585.5 83v1M586.5 83v1M586.5 96v1M589.5 48v1M590.5 97v1M591.5 83v1M591.5 98v1M592.5 98v1M593.5 86v1M595.5 96v1M597.5 84v1M598.5 86v1M598.5 97v1M599.5 96v1M600.5 84v1M602.5 100v1M603.5 83v1M603.5 98v1M605.5 83v1M605.5 98v1M606.5 85v1M606.5 97v1M607.5 86v1M609.5 97v1M612.5 83v1M613.5 86v1M614.5 82v1M614.5 98v1M615.5 98v1M616.5 82v1M616.5 97v1M617.5 82v1M617.5 98v1M618.5 100v1M620.5 85v1M621.5 80v1M621.5 97v1M623.5 95v1M624.5 95v1M625.5 99v1M627.5 84v1M627.5 99v1M628.5 82v1M629.5 82v1M630.5 95v1M631.5 83v1M634.5 98v1M635.5 97v1M636.5 100v1M637.5 82v1M638.5 29v1M639.5 97v1M640.5 83v1M641.5 83v1M642.5 85v1M642.5 99v1M643.5 99v1M645.5 97v1M647.5 96v1M649.5 98v1M650.5 84v1M650.5 95v1M652.5 83v1M652.5 97v1M653.5 82v1M654.5 84v1M654.5 98v1M655.5 98v1M656.5 83v1M658.5 97v1M659.5 85v1M662.5 96v1M663.5 83v1M664.5 98v1M665.5 82v1M665.5 97v1M667.5 98v1M668.5 85v1M669.5 97v1M670.5 84v1" stroke="#0072BD" stroke-opacity="0.35" fill="none"/>
<path d="M530.5 86v1M531.5 85v1M532.5 84v2M532.5 97v1M533.5 85v1M534.5 96v1M536.5 85v1M536.5 99v1M537.5 85v1M537.5 96v1M538.5 85v1M540.5 84v1M540.5 97v1M541.5 82v3M541.5 96v1M542.5 39v5M542.5 95v1M543.5 75v5M543.5 97v1M544.5 82v1M544.5 96v2M545.5 84v1M546.5 96v2M547.5 83v3M547.5 97v1M548.5 83v1M548.5 96v3M549.5 84v1M551.5 84v3M551.5 97v2M552.5 97v1M553.5 86v1M554.5 97v2M555.5 84v1M555.5 96v2M557.5 85v2M557.5 95v2M560.5 84v1M561.5 85v1M561.5 97v1M562.5 85v1M562.5 98v1M563.5 84v2M563.5 95v1M564.5 82v1M565.5 51v17M565.5 96v1M566.5 82v2M566.5 95v2M567.5 96v1M568.5 97v1M569.5 97v2M570.5 83v2M570.5 96v3M571.5 85v1M572.5 82v1M572.5 95v2M573.5 99v1M574.5 85v1M574.5 95v1M575.5 83v2M575.5 95v5M577.5 82v2M577.5 98v3M578.5 82v2M579.5 84v1M579.5 95v1M580.5 84v2M581.5 84v1M581.5 96v2M582.5 96v1M583.5 84v2M584.5 86v1M584.5 96v1M585.5 95v2M586.5 84v4M587.5 83v1M587.5 97v2M588.5 84v1M588.5 95v4M589.5 49v3M589.5 97v4M590.5 78v4M591.5 84v2M591.5 97v1M594.5 95v4M596.5 85v1M596.5 97v1M597.5 85v2M597.5 95v3M598.5 96v1M601.5 86v1M603.5 84v1M603.5 97v1M604.5 83v3M604.5 95v1M605.5 97v1M606.5 86v1M606.5 96v1M607.5 97v3M608.5 96v1M609.5 96v1M610.5 84v2M610.5 97v1M611.5 85v1M612.5 84v3M612.5 96v1M613.5 96v1M614.5 83v1M614.5 96v2M615.5 85v1M615.5 97v1M616.5 83v1M617.5 83v1M617.5 96v2M618.5 86v1M618.5 98v2M620.5 96v1M621.5 81v2M621.5 95v2M622.5 97v2M623.5 81v2M624.5 56v26M625.5 73v7M625.5 97v2M626.5 84v1M627.5 98v1M628.5 96v1M629.5 83v3M629.5 96v1M630.5 85v1M631.5 84v2M631.5 97v1M632.5 83v2M633.5 86v1M633.5 96v2M634.5 84v2M635.5 86v1M635.5 96v1M636.5 84v1M636.5 98v2M637.5 83v1M638.5 30v55M638.5 95v1M639.5 60v12M639.5 96v1M641.5 84v2M642.5 86v1M642.5 98v1M644.5 83v1M645.5 84v2M645.5 96v1M646.5 84v1M647.5 83v2M647.5 95v1M648.5 84v1M648.5 97v1M649.5 86v1M649.5 97v1M650.5 85v1M651.5 96v1M653.5 83v2M653.5 96v1M654.5 85v1M655.5 95v3M656.5 84v2M656.5 96v1M657.5 85v2M657.5 98v1M658.5 85v1M658.5 96v1M660.5 97v1M661.5 42v41M661.5 98v1M662.5 66v10M663.5 84v2M663.5 97v2M664.5 84v1M665.5 95v2M666.5 85v1M666.5 98v1M667.5 84v1M668.5 96v1M669.5 84v1M669.5 96v1M670.5 96v1M671.5 83v3M671.5 95v2" stroke="#0072BD" stroke-opacity="0.50" fill="none"/>
<path d="M532.5 86v1M532.5 96v1M533.5 86v1M533.5 95v1M535.5 81v1M535.5 96v1M536.5 86v1M538.5 86v1M538.5 97v1M539.5 86v1M539.5 95v1M540.5 96v1M542.5 44v1M543.5 80v1M545.5 85v1M546.5 86v1M547.5 96v1M548.5 84v1M550.5 97v1M551.5 87v1M552.5 96v1M554.5 85v1M554.5 96v1M555.5 85v1M556.5 95v1M557.5 87v1M557.5 94v1M558.5 96v1M559.5 84v1M559.5 96v1M560.5 96v1M564.5 83v1M565.5 68v1M566.5 84v1M567.5 85v1M568.5 82v1M569.5 85v1M569.5 96v1M570.5 85v1M572.5 83v1M573.5 85v1M576.5 84v1M576.5 97v1M577.5 97v1M578.5 84v1M580.5 97v1M581.5 95v1M582.5 85v1M583.5 95v1M586.5 95v1M588.5 94v1M589.5 52v1M590.5 82v1M590.5 96v1M591.5 96v1M592.5 85v1M592.5 97v1M593.5 96v1M594.5 84v1M594.5 94v1M595.5 85v1M596.5 96v1M597.5 94v1M598.5 87v1M599.5 84v1M599.5 95v1M600.5 85v1M602.5 86v1M602.5 99v1M603.5 96v1M604.5 86v1M605.5 96v1M606.5 95v1M607.5 96v1M608.5 85v1M611.5 97v1M615.5 86v1M615.5 96v1M616.5 96v1M617.5 95v1M619.5 85v1M619.5 95v1M620.5 95v1M622.5 85v1M622.5 96v1M623.5 83v1M624.5 82v1M625.5 80v1M626.5 97v1M627.5 85v1M628.5 83v1M629.5 86v1M629.5 95v1M631.5 86v1M632.5 98v1M634.5 86v1M634.5 97v1M637.5 96v1M639.5 72v1M639.5 95v1M640.5 84v1M640.5 96v1M641.5 86v1M641.5 96v1M643.5 84v1M645.5 86v1M649.5 96v1M651.5 95v1M652.5 84v1M653.5 85v1M653.5 95v1M654.5 97v1M655.5 84v1M660.5 84v1M661.5 83v1M661.5 97v1M663.5 96v1M664.5 97v1M666.5 86v1M667.5 97v1M668.5 86v1M670.5 85v1" stroke="#0072BD" stroke-opacity="0.65" fill="none"/>
<path d="M530.5 87v1M530.5 96v1M531.5 86v2M531.5 96v1M533.5 87v1M533.5 94v1M534.5 85v1M535.5 82v3M535.5 95v1M536.5 87v1M536.5 96v3M537.5 94v2M538.5 96v1M539.5 93v2M541.5 85v1M542.5 45v40M542.5 94v1M543.5 81v3M543.5 95v2M544.5 95v1M545.5 96v1M547.5 86v2M547.5 95v1M548.5 85v4M549.5 85v1M549.5 94v1M550.5 85v1M550.5 96v1M551.5 96v1M552.5 84v4M553.5 87v1M554.5 95v1M555.5 86v1M555.5 95v1M556.5 85v1M556.5 93v2M557.5 88v1M558.5 85v1M559.5 85v1M559.5 95v1M560.5 95v1M561.5 86v1M562.5 96v2M563.5 86v1M563.5 94v1M564.5 84v1M564.5 96v1M565.5 69v8M565.5 94v2M566.5 85v1M566.5 94v1M567.5 86v1M567.5 95v1M568.5 83v4M568.5 94v3M570.5 95v1M571.5 96v1M572.5 84v1M573.5 86v1M573.5 97v2M574.5 93v2M575.5 85v1M575.5 94v1M576.5 85v2M577.5 84v2M577.5 94v3M578.5 85v1M579.5 85v1M579.5 94v1M580.5 96v1M581.5 85v1M583.5 86v1M583.5 94v1M584.5 87v1M585.5 84v1M586.5 88v1M587.5 84v2M587.5 96v1M588.5 85v3M589.5 53v34M589.5 96v1M590.5 83v1M590.5 95v1M591.5 86v3M592.5 96v1M593.5 87v1M595.5 95v1M598.5 88v2M598.5 95v1M599.5 94v1M600.5 86v1M601.5 95v1M602.5 87v2M602.5 96v3M603.5 85v3M603.5 95v1M604.5 94v1M605.5 84v1M606.5 87v1M606.5 93v2M607.5 87v1M607.5 94v2M608.5 86v2M609.5 85v1M609.5 95v1M610.5 96v1M611.5 86v1M611.5 93v4M612.5 87v1M612.5 95v1M613.5 95v1M614.5 84v1M615.5 95v1M617.5 84v2M618.5 87v1M618.5 96v2M619.5 93v2M620.5 86v1M621.5 83v3M621.5 94v1M622.5 95v1M623.5 92v3M624.5 93v2M625.5 81v2M626.5 95v2M627.5 86v1M627.5 96v2M628.5 84v2M628.5 95v1M630.5 86v1M630.5 93v2M631.5 94v3M632.5 85v1M632.5 95v3M634.5 95v2M635.5 87v1M635.5 94v2M636.5 96v2M637.5 84v3M637.5 94v2M638.5 94v1M639.5 73v5M639.5 94v1M641.5 87v2M641.5 95v1M642.5 97v1M643.5 97v2M644.5 84v2M644.5 95v1M645.5 95v1M646.5 85v2M646.5 98v1M647.5 94v1M648.5 85v1M648.5 96v1M649.5 87v1M651.5 85v2M651.5 93v2M652.5 85v1M652.5 94v3M653.5 86v1M654.5 86v1M654.5 94v3M655.5 94v1M656.5 86v1M656.5 94v2M657.5 87v1M657.5 96v2M658.5 86v1M658.5 95v1M659.5 86v1M659.5 95v1M661.5 84v1M662.5 76v5M663.5 86v2M663.5 95v1M664.5 85v3M664.5 95v2M665.5 83v1M665.5 94v1M666.5 87v1M666.5 96v2M667.5 85v1M668.5 87v1M670.5 95v1M671.5 86v1M671.5 94v1" stroke="#0072BD" stroke-opacity="0.80" fill="none"/>
<path d="M530.5 88v8M531.5 88v8M532.5 87v9M533.5 88v6M534.5 86v10M535.5 85v10M536.5 88v8M537.5 86v8M538.5 87v9M539.5 87v6M540.5 85v11M541.5 86v10M542.5 85v9M543.5 84v11M544.5 83v12M545.5 86v10M546.5 87v9M547.5 88v7M548.5 89v7M549.5 86v8M550.5 86v10M551.5 88v8M552.5 88v8M553.5 88v10M554.5 86v9M555.5 87v8M556.5 86v7M557.5 89v5M558.5 86v10M559.5 86v9M560.5 85v10M561.5 87v10M562.5 86v10M563.5 87v7M564.5 85v11M565.5 77v17M566.5 86v8M567.5 87v8M568.5 87v7M569.5 86v10M570.5 86v9M571.5 86v10M572.5 85v10M573.5 87v10M574.5 86v7M575.5 86v8M576.5 87v10M577.5 86v8M578.5 86v9M579.5 86v8M580.5 86v10M581.5 86v9M582.5 86v10M583.5 87v7M584.5 88v8M585.5 85v10M586.5 89v6M587.5 86v10M588.5 88v6M589.5 87v9M590.5 84v11M591.5 89v7M592.5 86v10M593.5 88v8M594.5 85v9M595.5 86v9M596.5 86v10M597.5 87v7M598.5 90v5M599.5 85v9M600.5 87v9M601.5 87v8M602.5 89v7M603.5 88v7M604.5 87v7M605.5 85v11M606.5 88v5M607.5 88v6M608.5 88v8M609.5 86v9M610.5 86v10M611.5 87v6M612.5 88v7M613.5 87v8M614.5 85v11M615.5 87v8M616.5 84v12M617.5 86v9M618.5 88v8M619.5 86v7M620.5 87v8M621.5 86v8M622.5 86v9M623.5 84v8M624.5 83v10M625.5 83v14M626.5 85v10M627.5 87v9M628.5 86v9M629.5 87v8M630.5 87v6M631.5 87v7M632.5 86v9M633.5 87v9M634.5 87v8M635.5 88v6M636.5 85v11M637.5 87v7M638.5 85v9M639.5 78v16M640.5 85v11M641.5 89v6M642.5 87v10M643.5 85v12M644.5 86v9M645.5 87v8M646.5 87v11M647.5 85v9M648.5 86v10M649.5 88v8M650.5 86v9M651.5 87v6M652.5 86v8M653.5 87v8M654.5 87v7M655.5 85v9M656.5 87v7M657.5 88v8M658.5 87v8M659.5 87v8M660.5 85v12M661.5 85v12M662.5 81v15M663.5 88v7M664.5 88v7M665.5 84v10M666.5 88v8M667.5 86v11M668.5 88v8M669.5 85v11M670.5 86v9M671.5 87v7" stroke="#0072BD" stroke-opacity="0.92" fill="none"/>
<path d="M531.71 85.43V30.29M534.49 85.43V30.29M537.28 85.43V30.29M540.06 85.43V30.29M542.84 85.43V30.29M545.63 85.43V30.29M548.41 85.43V30.29M551.19 85.43V30.29M553.97 85.43V30.29M556.76 85.43V30.29M559.54 85.43V30.29M562.32 85.43V30.29M565.1 85.43V30.29M567.89 85.43V30.29M570.67 85.43V30.29M573.45 85.43V30.29M576.23 85.43V30.29M579.02 85.43V30.29M581.8 85.43V30.29M584.58 85.43V30.29M587.36 85.43V30.29M590.15 85.43V30.29M592.93 85.43V30.29M595.71 85.43V30.29M598.5 85.43V30.29M601.28 85.43V30.29M604.06 85.43V30.29M606.84 85.43V30.29M609.63 85.43V30.29M612.41 85.43V30.29M615.19 85.43V30.29M617.97 85.43V30.29M620.76 85.43V30.29M623.54 85.43V30.29M626.32 85.43V30.29M629.1 85.43V30.29M631.89 85.43V30.29M634.67 85.43V30.29M637.45 85.43V30.29M640.24 85.43V30.29M643.02 85.43V30.29M645.8 85.43V30.29M648.58 85.43V30.29M651.37 85.43V30.29M654.15 85.43V30.29M656.93 85.43V30.29M659.71 85.43V30.29M662.5 85.43V30.29M665.28 85.43V30.29M668.06 85.43V30.29M670.84 85.43V30.29" stroke="#D95319" stroke-opacity="0.55" stroke-width="1.2" fill="none"/>
<rect x="529.5" y="16.5" width="142.7" height="103.4" fill="none" stroke="#3c3c3c" stroke-width="1.1"/>
<path d="M529.5 119.9v-2M529.5 16.5v2M600.85 119.9v-2M600.85 16.5v2M672.2 119.9v-2M672.2 16.5v2M529.5 119.9h2M672.2 119.9h-2M529.5 85.43h2M672.2 85.43h-2M529.5 50.97h2M672.2 50.97h-2M529.5 16.5h2M672.2 16.5h-2" stroke="#3c3c3c" stroke-width="1" fill="none"/>
<text x="530.5" y="133.2" text-anchor="middle" font-weight="normal" font-style="normal" fill="#262626" font-size="13.2">0</text>
<text x="600.85" y="133.2" text-anchor="middle" font-weight="normal" font-style="normal" fill="#262626" font-size="13.2">50</text>
<text x="673.3" y="133.2" text-anchor="middle" font-weight="normal" font-style="normal" fill="#262626" font-size="13.2">100</text>
<text x="525" y="124.8" text-anchor="end" font-weight="normal" font-style="normal" fill="#262626" font-size="13.2">-1</text>
<text x="525" y="90.33" text-anchor="end" font-weight="normal" font-style="normal" fill="#262626" font-size="13.2">0</text>
<text x="525" y="55.87" text-anchor="end" font-weight="normal" font-style="normal" fill="#262626" font-size="13.2">1</text>
<text x="525" y="21.4" text-anchor="end" font-weight="normal" font-style="normal" fill="#262626" font-size="13.2">2</text>
<text x="603.7" y="146.5" text-anchor="middle" font-weight="normal" font-style="normal" fill="#262626" font-size="13.2">Time (µs)</text>
<text x="0" y="0" text-anchor="middle" fill="#262626" font-size="13.2" transform="translate(511 68.2) rotate(-90)">V (mV)</text>
<text x="599.4" y="10.8" text-anchor="middle" font-weight="bold" font-style="normal" fill="#000" font-size="13.35">classification of counts</text>
<rect x="536.3" y="28.4" width="13" height="75" rx="2.5" fill="none" stroke="#000" stroke-width="1.8" stroke-dasharray="0 3.25" stroke-linecap="round"/>
<rect x="632.4" y="27.3" width="13.2" height="75.2" rx="2.5" fill="none" stroke="#000" stroke-width="1.8" stroke-dasharray="0 3.25" stroke-linecap="round"/>
<path d="M542.3 162.7V104M542 162.7H281M281.9 162.7V174M639.5 162.7V103M639.5 162.7H561.5M562.2 162.7V175.5" fill="none" stroke="#000" stroke-width="1.9" stroke-dasharray="0 3.32" stroke-linecap="round"/>
<path d="M279.4 175.2L284.4 175.2L281.9 179.6ZM281 173.6h1.8v2h-1.8z" fill="#000" stroke="#000" stroke-width="0.4"/>
<path d="M559.6 176.5L564.6 176.5L562.1 180.9ZM561.2 174.9h1.8v2h-1.8z" fill="#000" stroke="#000" stroke-width="0.4"/>
<path d="M188.5 68.8H233.3V64.8L241.5 72.8L233.3 80.8V76.8H188.5Z" fill="#3333FF" stroke="#000033" stroke-width="0.8"/>
<path d="M431.5 68.8H485V64.8L493.5 72.8L485 80.8V76.8H431.5Z" fill="#3333FF" stroke="#000033" stroke-width="0.8"/>
<text x="212.3" y="42.6" text-anchor="middle" font-weight="normal" font-style="italic" fill="#000" font-size="13.2">low-pass</text>
<text x="214.5" y="58.1" text-anchor="middle" font-weight="normal" font-style="italic" fill="#000" font-size="13.2">filtering</text>
<text x="460" y="42" text-anchor="middle" font-weight="normal" font-style="italic" fill="#000" font-size="13.2">apply</text>
<text x="460" y="57.2" text-anchor="middle" font-weight="normal" font-style="italic" fill="#000" font-size="13.2">time window</text>
<clipPath id="c1"><rect x="140.5" y="199.5" width="150" height="105"/></clipPath>
<path d="M140.5 276.32H169.5V214.56H179.5V276.32H208.5V214.56H218.5V276.32H247.9V214.56H257.9V276.32H287.7V214.56H297.7V276.32H290.5" stroke="#D95319" stroke-opacity="0.6" stroke-width="0.8" fill="none" clip-path="url(#c1)"/>
<clipPath id="c2"><rect x="140.5" y="199.5" width="150" height="105"/></clipPath>
<polyline points="140.5,288.86 141.06,281.32 141.62,279.51 142.18,288.88 142.74,287.2 143.3,280.47 143.86,275.01 144.42,282.5 144.98,289.43 145.54,283.3 146.1,282.2 146.66,281.54 147.22,281.92 147.78,281.72 148.34,282.37 148.9,282.12 149.46,279.19 150.02,275.96 150.58,275.2 151.14,278.34 151.7,287.82 152.26,287.52 152.82,280.78 153.38,278.71 153.94,277.64 154.5,281.79 155.06,280.65 155.62,282.54 156.18,286.77 156.74,282.78 157.3,278.77 157.86,283.96 158.42,287.93 158.98,281.01 159.54,280.79 160.1,280.58 160.66,277.53 161.22,278.23 161.78,282.48 162.34,282.25 162.9,281.69 163.46,288.15 164.02,275.71 164.58,280.08 165.14,280.7 165.7,281.08 166.26,279.98 166.82,276.09 167.38,284.03 167.94,283.92 168.5,284.83 169.06,284.36 169.62,277.75 170.18,277.54 170.74,284.17 171.3,282.39 171.86,283.17 172.42,287.06 172.98,277.53 173.54,287.31 174.1,286.68 174.66,279.18 175.22,279.12 175.78,283.32 176.34,280.43 176.9,278.03 177.46,279.68 178.02,282.73 178.58,281.67 179.14,278.21 179.7,285.72 180.26,284.03 180.82,286.15 181.38,281.18 181.94,280.54 182.5,274.79 183.06,279.72 183.62,279.77 184.18,276.19 184.74,281.94 185.3,277.44 185.86,279.49 186.42,279.59 186.98,283.51 187.54,281.28 188.1,278.44 188.66,282.26 189.22,282.52 189.78,281 190.34,283.22 190.9,283.69 191.46,281.66 192.02,283.4 192.58,277.9 193.14,285.95 193.7,278.74 194.26,285.28 194.82,277.98 195.38,284.61 195.94,280.97 196.5,283.36 197.06,281.27 197.62,284.83 198.18,283.99 198.74,282.79 199.3,278.69 199.86,280.08 200.42,275.33 200.98,283.24 201.54,281.08 202.1,282.51 202.66,283.98 203.22,282.63 203.78,283.87 204.34,284.69 204.9,283.58 205.46,277.38 206.02,285.65 206.58,292.92 207.14,292.92 207.7,280.63 208.26,283.38 208.82,283.94 209.38,226.84 209.94,236.85 210.5,236.68 211.06,231.61 211.62,225.36 212.18,225.36 212.74,241.03 213.3,237.41 213.86,263.1 214.42,276.98 214.98,272.86 215.54,269.64 216.1,272.91 216.66,272.18 217.22,278.23 217.78,272.47 218.34,274.99 218.9,277.2 219.46,282.08 220.02,276.59 220.58,280.16 221.14,286.18 221.7,289.35 222.26,279.05 222.82,274.94 223.38,282.62 223.94,282.61 224.5,283.27 225.06,281.11 225.62,278.38 226.18,277.53 226.74,286.64 227.3,280.07 227.86,281.95 228.42,283.92 228.98,277.11 229.54,283.48 230.1,279.21 230.66,285.93 231.22,287.42 231.78,287.34 232.34,282.27 232.9,274.47 233.46,279.53 234.02,283.53 234.58,284.17 235.14,275.74 235.7,276.73 236.26,280.23 236.82,280.43 237.38,283.62 237.94,284.56 238.5,284.07 239.06,281.17 239.62,276.63 240.18,284.67 240.74,280.72 241.3,276.75 241.86,283.15 242.42,285.58 242.98,284.13 243.54,282.19 244.1,278.39 244.66,284.26 245.22,282.92 245.78,284.24 246.34,282.24 246.9,275.1 247.46,286.62 248.02,276.03 248.58,285.64 249.14,273.52 249.7,284.11 250.26,287.42 250.82,281.81 251.38,285 251.94,279.75 252.5,281.6 253.06,282.99 253.62,277.12 254.18,285.14 254.74,280.18 255.3,287.4 255.86,280.2 256.42,282.88 256.98,281.98 257.54,284.65 258.1,281.97 258.66,282.77 259.22,284.22 259.78,279.8 260.34,283.56 260.9,277.96 261.46,280.51 262.02,283.87 262.58,281.45 263.14,281.4 263.7,281.95 264.26,278.59 264.82,282.38 265.38,282.43 265.94,288.49 266.5,289.66 267.06,279.55 267.62,281.89 268.18,280.1 268.74,280.83 269.3,275.9 269.86,286.81 270.42,278.9 270.98,274.66 271.54,277.85 272.1,284.68 272.66,281.55 273.22,283.76 273.78,277.23 274.34,283.96 274.9,282.38 275.46,278.78 276.02,286.11 276.58,281.95 277.14,280.34 277.7,278.1 278.26,279.86 278.82,280.56 279.38,278.29 279.94,281.21 280.5,283.08 281.06,281.52 281.62,278.48 282.18,280.42 282.74,276.67 283.3,284.35 283.86,280.57 284.42,283.15 284.98,284.89 285.54,283.64 286.1,282.46 286.66,274.28 287.22,285.43 287.78,280.59 288.34,281.22 288.9,275.44 289.46,277.34 290.02,285.17 290.58,285.47" stroke="#0072BD" stroke-width="0.7" fill="none" stroke-opacity="0.8" clip-path="url(#c2)"/>
<rect x="140.5" y="199.5" width="150" height="105" fill="none" stroke="#3c3c3c" stroke-width="1.1"/>
<path d="M145.5 304.5v-2M145.5 199.5v2M185.5 304.5v-2M185.5 199.5v2M225.5 304.5v-2M225.5 199.5v2M265.5 304.5v-2M265.5 199.5v2M140.5 295.62h2M290.5 295.62h-2M140.5 276.32h2M290.5 276.32h-2M140.5 257.02h2M290.5 257.02h-2M140.5 237.72h2M290.5 237.72h-2M140.5 218.42h2M290.5 218.42h-2" stroke="#3c3c3c" stroke-width="1" fill="none"/>
<text x="145.5" y="319" text-anchor="middle" font-weight="normal" font-style="normal" fill="#262626" font-size="13.2">6</text>
<text x="185.5" y="319" text-anchor="middle" font-weight="normal" font-style="normal" fill="#262626" font-size="13.2">8</text>
<text x="225.5" y="319" text-anchor="middle" font-weight="normal" font-style="normal" fill="#262626" font-size="13.2">10</text>
<text x="265.5" y="319" text-anchor="middle" font-weight="normal" font-style="normal" fill="#262626" font-size="13.2">12</text>
<text x="136" y="300.22" text-anchor="end" font-weight="normal" font-style="normal" fill="#262626" font-size="13.2">-0.5</text>
<text x="136" y="280.92" text-anchor="end" font-weight="normal" font-style="normal" fill="#262626" font-size="13.2">0</text>
<text x="136" y="261.62" text-anchor="end" font-weight="normal" font-style="normal" fill="#262626" font-size="13.2">0.5</text>
<text x="136" y="242.32" text-anchor="end" font-weight="normal" font-style="normal" fill="#262626" font-size="13.2">1.0</text>
<text x="136" y="223.02" text-anchor="end" font-weight="normal" font-style="normal" fill="#262626" font-size="13.2">1.5</text>
<text x="213.6" y="330.7" text-anchor="middle" font-weight="normal" font-style="normal" fill="#262626" font-size="13.2">Time (µs)</text>
<text x="0" y="0" text-anchor="middle" fill="#262626" font-size="13.2" transform="translate(111 252) rotate(-90)">V (mV)</text>
<text x="291.5" y="194.5" text-anchor="end" font-weight="bold" font-style="normal" fill="#FF0000" font-size="13.35">photon count</text>
<clipPath id="c3"><rect x="420" y="198" width="150" height="104.5"/></clipPath>
<path d="M420 279.07H440.2V204.09H450.41V279.07H480.2V204.09H490.41V279.07H519.8V204.09H530V279.07H559.8V204.09H570V279.07H570" stroke="#D95319" stroke-opacity="0.6" stroke-width="0.8" fill="none" clip-path="url(#c3)"/>
<clipPath id="c4"><rect x="420" y="198" width="150" height="104.5"/></clipPath>
<polyline points="420,286.69 420.57,279.64 421.14,286.66 421.71,287.91 422.29,292.24 422.86,285.59 423.43,278.89 424,282.49 424.57,284.9 425.14,280.74 425.71,281.08 426.29,280.82 426.86,279.7 427.43,288.14 428,287.21 428.57,286.26 429.14,283.76 429.71,286.62 430.29,282.04 430.86,276.7 431.43,274.35 432,285.46 432.57,284.15 433.14,284.72 433.71,282.51 434.29,279.36 434.86,281.57 435.43,278.56 436,288.19 436.57,286.66 437.14,284.46 437.71,291.39 438.29,290.75 438.86,286.45 439.43,290.18 440,287.39 440.57,283.99 441.14,285.42 441.71,287.23 442.29,284.69 442.86,280.99 443.43,286.2 444,286.77 444.57,289.05 445.14,283.98 445.71,285.78 446.29,279.73 446.86,282.3 447.43,298 448,290.08 448.57,279.52 449.14,282.73 449.71,280.13 450.29,273.08 450.86,273.7 451.43,290.02 452,287.17 452.57,292.58 453.14,280.72 453.71,286.08 454.29,284.52 454.86,273.65 455.43,281.42 456,279.38 456.57,291.29 457.14,288.54 457.71,283.98 458.29,280.42 458.86,288.63 459.43,288.44 460,283.29 460.57,284 461.14,277.04 461.71,288.94 462.29,282.57 462.86,287.43 463.43,281.8 464,277.42 464.57,286.38 465.14,284.67 465.71,283.12 466.29,278.76 466.86,288.36 467.43,283.18 468,284.83 468.57,292.65 469.14,283.17 469.71,286.12 470.29,292.48 470.86,290.51 471.43,289.52 472,283.33 472.57,286.64 473.14,287.84 473.71,284.63 474.29,285.84 474.86,276.65 475.43,299.59 476,280.61 476.57,288.99 477.14,280.34 477.71,290.7 478.29,287.48 478.86,288.11 479.43,283.99 480,282.86 480.57,289.59 481.14,284.78 481.71,289.64 482.29,288.9 482.86,281.5 483.43,279.94 484,280.57 484.57,276.62 485.14,298.53 485.71,280.08 486.29,284.41 486.86,285.49 487.43,280.07 488,288.34 488.57,284.41 489.14,290.55 489.71,283.56 490.29,281.52 490.86,287.3 491.43,284.49 492,288.25 492.57,284.41 493.14,281.64 493.71,297.02 494.29,286.51 494.86,277.24 495.43,279.11 496,279.93 496.57,286.92 497.14,285.82 497.71,285.4 498.29,205.5 498.86,221.36 499.43,250.25 500,250.93 500.57,252.89 501.14,258.83 501.71,275 502.29,267.44 502.86,265.73 503.43,269.23 504,274.79 504.57,273.46 505.14,279.03 505.71,283.73 506.29,279.54 506.86,276.61 507.43,286.42 508,289.03 508.57,288.34 509.14,279.26 509.71,283.47 510.29,286.7 510.86,278.29 511.43,293.05 512,287.15 512.57,275.06 513.14,284.86 513.71,282.61 514.29,275.59 514.86,281.07 515.43,287.74 516,291.45 516.57,277.55 517.14,283.67 517.71,285.08 518.29,277.18 518.86,278.91 519.43,282.3 520,287.56 520.57,289.61 521.14,280.55 521.71,286.34 522.29,285.56 522.86,279.2 523.43,284.44 524,283.61 524.57,284.71 525.14,280.24 525.71,293.59 526.29,284.87 526.86,285.21 527.43,287.48 528,286.89 528.57,280.74 529.14,279.34 529.71,290.94 530.29,284.36 530.86,291.29 531.43,286.81 532,287.96 532.57,287.31 533.14,278.51 533.71,288.57 534.29,278.64 534.86,296.32 535.43,288.64 536,282.19 536.57,283.09 537.14,276.92 537.71,281.7 538.29,284.75 538.86,279.24 539.43,284.49 540,288.31 540.57,286.37 541.14,286.4 541.71,277.41 542.29,283.55 542.86,289.13 543.43,285.15 544,278.02 544.57,290.07 545.14,281.07 545.71,291.28 546.29,289.27 546.86,284.4 547.43,297.98 548,281.21 548.57,285.1 549.14,287.73 549.71,282.92 550.29,289.18 550.86,292.05 551.43,288.25 552,281.91 552.57,277.94 553.14,285.32 553.71,285.04 554.29,289.01 554.86,288.5 555.43,285.07 556,286.42 556.57,280.1 557.14,278.65 557.71,282.23 558.29,297.9 558.86,288.47 559.43,288.02 560,277.76 560.57,279.7 561.14,293.31 561.71,283.7 562.29,288.9 562.86,277.98 563.43,280.2 564,288.15 564.57,279.33 565.14,286.01 565.71,284.24 566.29,279.85 566.86,291.08 567.43,287.4 568,283.46 568.57,284.43 569.14,281.39 569.71,288.65" stroke="#0072BD" stroke-width="0.7" fill="none" stroke-opacity="0.8" clip-path="url(#c4)"/>
<rect x="420" y="198" width="150" height="104.5" fill="none" stroke="#3c3c3c" stroke-width="1.1"/>
<path d="M451.02 302.5v-2M451.02 198v2M491.84 302.5v-2M491.84 198v2M532.65 302.5v-2M532.65 198v2M420 302.5h2M570 302.5h-2M420 279.07h2M570 279.07h-2M420 255.64h2M570 255.64h-2M420 232.21h2M570 232.21h-2M420 208.78h2M570 208.78h-2" stroke="#3c3c3c" stroke-width="1" fill="none"/>
<text x="451.02" y="319" text-anchor="middle" font-weight="normal" font-style="normal" fill="#262626" font-size="13.2">74</text>
<text x="491.84" y="319" text-anchor="middle" font-weight="normal" font-style="normal" fill="#262626" font-size="13.2">76</text>
<text x="532.65" y="319" text-anchor="middle" font-weight="normal" font-style="normal" fill="#262626" font-size="13.2">78</text>
<text x="415.5" y="307.1" text-anchor="end" font-weight="normal" font-style="normal" fill="#262626" font-size="13.2">-0.5</text>
<text x="415.5" y="283.67" text-anchor="end" font-weight="normal" font-style="normal" fill="#262626" font-size="13.2">0</text>
<text x="415.5" y="260.24" text-anchor="end" font-weight="normal" font-style="normal" fill="#262626" font-size="13.2">0.5</text>
<text x="415.5" y="236.81" text-anchor="end" font-weight="normal" font-style="normal" fill="#262626" font-size="13.2">1.0</text>
<text x="415.5" y="213.38" text-anchor="end" font-weight="normal" font-style="normal" fill="#262626" font-size="13.2">1.5</text>
<text x="495.4" y="330.7" text-anchor="middle" font-weight="normal" font-style="normal" fill="#262626" font-size="13.2">Time (µs)</text>
<text x="0" y="0" text-anchor="middle" fill="#262626" font-size="13.2" transform="translate(390 250.25) rotate(-90)">V (mV)</text>
<text x="568.7" y="195.3" text-anchor="end" font-weight="bold" font-style="normal" fill="#FF0000" font-size="13.35">dark count</text>
</svg>
</body></html>
